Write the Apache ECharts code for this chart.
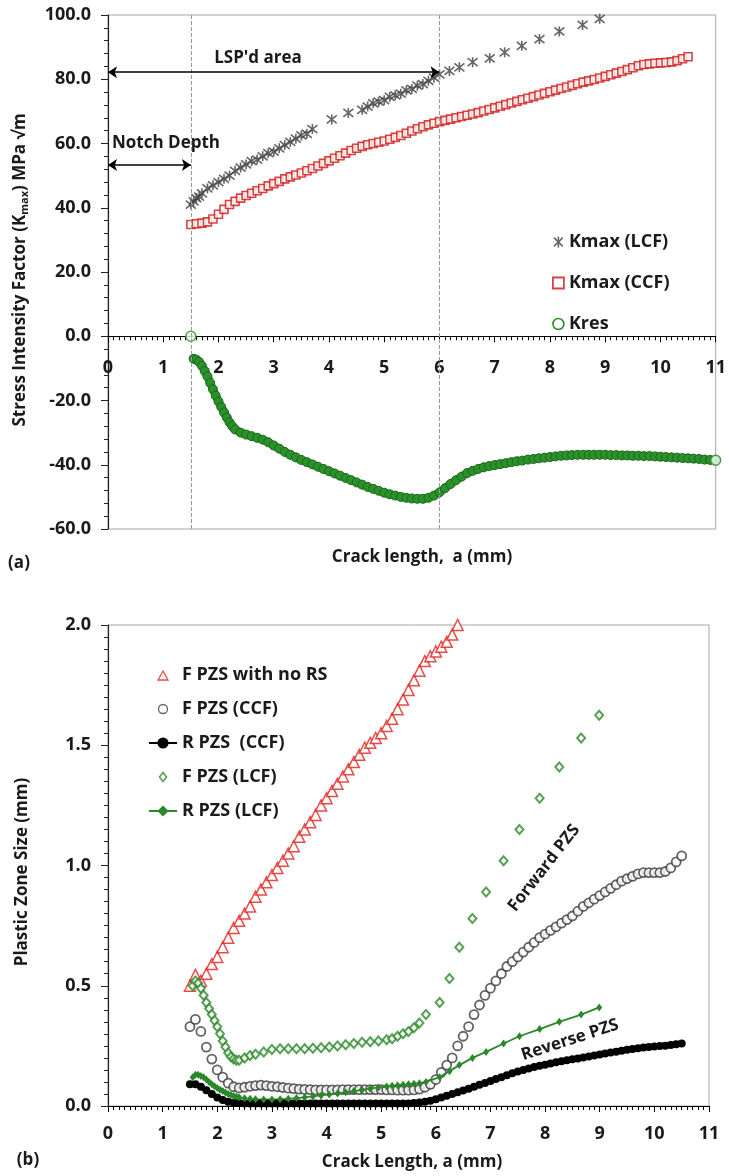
<!DOCTYPE html>
<html>
<head>
<meta charset="utf-8">
<script src="https://cdn.jsdelivr.net/npm/echarts@6/dist/echarts.min.js"></script>
<title>Kmax / Kres and plastic zone size</title>
<style>
  html, body { margin: 0; padding: 0; background: #fff; }
</style>
</head>
<body>
<div id="container" style="width:729px;height:1176px;"></div>
<script>
// ---------- data, chart (a) ----------
// Kmax under LCF (asterisks)
var kLcfX = [1.5,1.55,1.6,1.65,1.7,1.8,1.9,2.0,2.1,2.2,2.3,2.4,2.5,2.6,2.7,2.8,2.9,3.0,3.1,3.2,3.3,3.4,3.5,3.6,3.7,
             4.05,4.35,4.6,4.7,4.8,4.9,5.0,5.1,5.2,5.3,5.4,5.5,5.6,5.7,5.8,5.9,6.0,
             6.18,6.36,6.6,6.91,7.18,7.49,7.81,8.17,8.59,8.9];
var kLcfY = [41,42,43,43.5,44.5,46,47,48,49,50,51.5,52.5,53.5,54.5,55,56,57,57.5,58.5,59.5,60.5,61.5,62.5,63,64.5,
             67.5,69.5,70.5,71.5,72.5,73,73.5,74.5,75,75.5,76.5,77,78,78.5,79.5,80.5,81.5,
             82.6,83.7,85.3,86.5,88.4,90.4,92.5,94.9,96.9,98.8];

// crack lengths of the CCF test (used in both charts)
var ccfX = [1.5,1.6,1.7,1.8,1.9,2.0,2.1,2.2,2.3,2.4,2.5,2.6,2.7,2.8,2.9,3.0,3.1,3.2,3.3,3.4,
            3.5,3.6,3.7,3.8,3.9,4.0,4.1,4.2,4.3,4.4,4.5,4.6,4.7,4.8,4.9,5.0,5.1,5.2,5.3,5.4,
            5.5,5.6,5.7,5.8,5.9,6.0,6.1,6.2,6.3,6.4,6.5,6.6,6.7,6.8,6.9,7.0,7.1,7.2,7.3,7.4,
            7.5,7.6,7.7,7.8,7.9,8.0,8.1,8.2,8.3,8.4,8.5,8.6,8.7,8.8,8.9,9.0,9.1,9.2,9.3,9.4,
            9.5,9.6,9.7,9.8,9.9,10.0,10.1,10.2,10.3,10.4,10.5];
// Kmax under CCF (squares)
var kCcfY = [34.8,35,35.2,35.6,36.5,38,39.5,41,42,43,43.8,44.5,45.3,46,46.8,47.5,48.2,49,49.6,50.2,
             50.8,51.5,52.2,53,53.8,54.6,55.4,56.2,57,57.8,58.5,59.1,59.6,60,60.4,60.8,61.3,61.9,62.5,63.2,
             63.9,64.6,65.2,65.8,66.3,66.8,67.2,67.6,68,68.4,68.8,69.2,69.6,70.1,70.6,71.1,71.6,72.1,72.6,73.1,
             73.6,74.1,74.6,75.1,75.6,76.1,76.6,77.1,77.6,78.1,78.6,79.1,79.5,79.9,80.4,80.9,81.4,81.9,82.4,83,
             83.6,84.2,84.6,84.8,85,85.1,85.2,85.4,85.8,86.4,87];

// residual K (circles)
var kresStart = [1.5, 0];
var kresX = [1.55,1.6,1.65,1.7,1.75,1.8,1.85,1.9,1.95,2.0,2.05,2.1,2.15,2.2,2.25,2.3,
             2.4,2.5,2.6,2.7,2.8,2.9,3.0,3.1,3.2,3.3,3.4,3.5,3.6,3.7,3.8,3.9,4.0,4.1,4.2,4.3,4.4,
             4.5,4.6,4.7,4.8,4.9,5.0,5.1,5.2,5.3,5.4,5.5,5.6,5.7,5.8,5.9,6.0,6.1,6.2,6.3,6.4,
             6.5,6.6,6.7,6.8,6.9,7.0,7.1,7.2,7.3,7.4,7.5,7.6,7.7,7.8,7.9,8.0,8.1,8.2,8.3,8.4,
             8.5,8.6,8.7,8.8,8.9,9.0,9.1,9.2,9.3,9.4,9.5,9.6,9.7,9.8,9.9,10.0,10.1,10.2,10.3,10.4,
             10.5,10.6,10.7,10.8,10.9,11.0];
var kresY = [-7,-7.3,-8,-9.2,-10.8,-12.5,-14.5,-16.5,-18.5,-20.3,-22,-23.7,-25.3,-26.8,-28,-29,
             -30,-30.6,-31.1,-31.6,-32.2,-33,-34,-35,-36,-36.9,-37.7,-38.5,-39.2,-39.9,-40.6,-41.3,-42,-42.7,-43.4,-44.1,-44.8,
             -45.5,-46.2,-46.9,-47.5,-48.1,-48.7,-49.2,-49.6,-50,-50.3,-50.5,-50.6,-50.6,-50.3,-49.6,-48.6,-47.3,-46,-44.8,-43.7,
             -42.6,-41.9,-41.3,-40.8,-40.4,-40.1,-39.8,-39.5,-39.2,-38.9,-38.7,-38.4,-38.2,-38,-37.8,-37.6,-37.4,-37.2,-37.1,-37,
             -36.9,-36.9,-36.9,-36.9,-36.9,-36.9,-37,-37,-37.1,-37.1,-37.2,-37.2,-37.3,-37.3,-37.4,-37.5,-37.6,-37.7,-37.8,-37.9,
             -38,-38.1,-38.2,-38.4,-38.5,-38.6];

// annotation positions (crack length, mm) and arrow heights (MPa vm)
var notchDepth = 1.5, lspEnd = 6;
var lspArrowY = 82.2, notchArrowY = 53.3;

// ---------- data, chart (b) ----------
var noRsX = [1.5,1.6,1.7,1.8,1.9,2.0,2.1,2.2,2.3,2.4,2.5,2.6,2.7,2.8,2.9,3.0,3.1,3.2,3.3,3.4,
             3.5,3.6,3.7,3.8,3.9,4.0,4.1,4.2,4.3,4.4,4.5,4.6,4.7,4.8,4.9,5.0,5.1,5.2,5.3,5.4,
             5.5,5.6,5.7,5.8,5.9,6.0,6.1,6.2,6.3,6.4];
var noRsY = [0.5,0.545,0.52,0.55,0.59,0.62,0.66,0.70,0.74,0.77,0.80,0.83,0.87,0.90,0.93,0.96,0.99,1.02,1.05,1.08,
             1.12,1.15,1.18,1.21,1.25,1.28,1.31,1.34,1.37,1.40,1.43,1.46,1.49,1.51,1.53,1.55,1.58,1.61,1.65,1.69,
             1.73,1.77,1.81,1.85,1.87,1.89,1.91,1.93,1.96,2.0];

var fCcfY = [0.33,0.36,0.31,0.245,0.195,0.15,0.12,0.095,0.08,0.075,0.078,0.082,0.085,0.087,0.085,0.082,0.08,0.077,0.074,0.072,
             0.07,0.069,0.068,0.067,0.067,0.067,0.067,0.067,0.068,0.068,0.068,0.068,0.068,0.068,0.068,0.068,0.067,0.067,0.066,0.066,
             0.066,0.067,0.07,0.078,0.09,0.11,0.14,0.17,0.2,0.25,0.29,0.33,0.38,0.42,0.46,0.49,0.52,0.55,0.58,0.6,
             0.62,0.64,0.66,0.68,0.70,0.715,0.73,0.745,0.76,0.775,0.79,0.81,0.83,0.845,0.86,0.875,0.89,0.905,0.92,0.935,
             0.945,0.955,0.965,0.97,0.97,0.97,0.97,0.975,0.99,1.015,1.04];
var rCcfY = [0.09,0.09,0.08,0.065,0.05,0.035,0.025,0.018,0.014,0.012,0.01,0.01,0.01,0.01,0.01,0.01,0.01,0.01,0.01,0.01,
             0.01,0.01,0.01,0.01,0.01,0.01,0.01,0.01,0.01,0.01,0.01,0.01,0.01,0.01,0.01,0.01,0.01,0.01,0.01,0.01,
             0.01,0.012,0.015,0.018,0.022,0.028,0.035,0.043,0.05,0.057,0.064,0.072,0.08,0.088,0.096,0.104,0.112,0.12,0.128,0.136,
             0.143,0.15,0.156,0.162,0.167,0.172,0.177,0.182,0.186,0.19,0.194,0.198,0.202,0.206,0.21,0.214,0.218,0.222,0.226,0.23,
             0.234,0.237,0.24,0.243,0.245,0.247,0.249,0.251,0.254,0.257,0.26];

var lcfX = [1.55,1.6,1.65,1.7,1.75,1.8,1.85,1.9,1.95,2.0,2.05,2.1,2.15,2.2,2.25,2.3,2.35,2.4,
            2.5,2.6,2.7,2.85,3.0,3.15,3.3,3.45,3.6,3.75,3.9,4.05,4.2,4.35,4.5,4.65,4.8,4.95,5.1,
            5.2,5.3,5.4,5.5,5.6,5.7,5.82,6.07,6.25,6.43,6.67,6.92,7.24,7.53,7.9,8.26,8.66,8.99];
var fLcfY = [0.5,0.52,0.51,0.49,0.46,0.43,0.405,0.38,0.355,0.33,0.3,0.27,0.245,0.22,0.205,0.195,0.19,0.19,
             0.2,0.21,0.215,0.225,0.235,0.238,0.238,0.238,0.238,0.24,0.242,0.245,0.25,0.255,0.26,0.265,0.267,0.27,0.275,
             0.28,0.29,0.3,0.31,0.325,0.345,0.38,0.43,0.53,0.66,0.78,0.89,1.02,1.15,1.28,1.41,1.53,1.625];
var rLcfY = [0.12,0.13,0.13,0.125,0.12,0.11,0.1,0.09,0.082,0.075,0.068,0.062,0.056,0.05,0.046,0.042,0.039,0.036,
             0.032,0.03,0.028,0.027,0.027,0.028,0.03,0.033,0.036,0.04,0.044,0.048,0.052,0.057,0.062,0.067,0.072,0.077,0.081,
             0.084,0.086,0.088,0.09,0.092,0.095,0.1,0.12,0.145,0.17,0.2,0.225,0.26,0.29,0.32,0.35,0.38,0.41];

// ---------- helpers ----------
function zip(xs, ys) {
    var out = [];
    for (var i = 0; i < xs.length; i++) out.push([xs[i], ys[i]]);
    return out;
}

var FONT = '"Open Sans", "Liberation Sans", sans-serif';
var RED = '#e0201c', DRED = '#cf1414', GREEN = '#2a882a', GREY = '#3c3c3c', DARK = '#404040';
var asterisk = 'path://M1,1L9,9M9,1L1,9M5,0L5,10';
// small legend icons inside a 28x14 box (the leading moves only pad the box)
var iconTri = 'path://M0,0M28,14M9,12L14,3L19,12Z';
var iconCircle = 'path://M0,0M28,14M9.5,7A4.5,4.5,0,1,1,18.5,7A4.5,4.5,0,1,1,9.5,7Z';
var iconDiamond = 'path://M0,0M28,14M14,2.5L17.5,7L14,11.5L10.5,7Z';

// chart (a) y range; its crack-length axis sits on K = 0
var yMinA = -60, yMaxA = 100, gridHA = 514;
var zeroOffsetA = -gridHA * (0 - yMinA) / (yMaxA - yMinA);

function xAxisCfg(grid, offset, margin) {
    return {
        type: 'value', gridIndex: grid, min: 0, max: 11, interval: 1,
        position: 'bottom', offset: offset,
        axisLine: { onZero: false, lineStyle: { color: '#000', width: 1.2 } },
        axisTick: { length: 6, lineStyle: { color: '#000' } },
        minorTick: { show: true, splitNumber: 10, length: 4, lineStyle: { color: '#000' } },
        axisLabel: { margin: margin, color: '#1a1a1a', fontSize: 18, fontWeight: 'bold', fontFamily: FONT },
        splitLine: { show: false }
    };
}

function yAxisCfg(grid, min, max, step, minor) {
    return {
        type: 'value', gridIndex: grid, min: min, max: max, interval: step,
        axisLine: { show: true, onZero: false, lineStyle: { color: '#222', width: 1.2 } },
        axisTick: { show: true, length: 7, lineStyle: { color: '#222' } },
        minorTick: { show: true, splitNumber: minor, length: 4, lineStyle: { color: '#222' } },
        axisLabel: {
            margin: 17, color: '#1a1a1a', fontSize: 18, fontWeight: 'bold', fontFamily: FONT,
            formatter: function (v) { return v.toFixed(1); }
        },
        splitLine: { show: false }
    };
}

function txt(x, y, s, size, rot) {
    return {
        type: 'text', x: x, y: y, rotation: rot || 0, silent: true,
        style: {
            text: s, fill: '#1a1a1a', fontSize: size || 17, fontWeight: 'bold', fontFamily: FONT,
            textAlign: 'center', textVerticalAlign: 'middle'
        }
    };
}

var myChart = echarts.init(document.getElementById('container'), null, { renderer: 'canvas' });

var option = {
    animation: false,
    backgroundColor: '#fff',
    grid: [
        { left: 108, top: 15, width: 609, height: gridHA, show: true, borderColor: '#a6a6a6', borderWidth: 1 },
        { left: 108, top: 625, width: 601, height: 481, show: true, borderColor: '#a6a6a6', borderWidth: 1 }
    ],
    xAxis: [xAxisCfg(0, zeroOffsetA, 23), xAxisCfg(1, 0, 19)],
    yAxis: [yAxisCfg(0, yMinA, yMaxA, 20, 5), yAxisCfg(1, 0, 2, 0.5, 10)],
    legend: [
        {
            orient: 'vertical', left: 547, top: 228, itemWidth: 11, itemHeight: 11, itemGap: 23,
            textStyle: { fontSize: 18, fontWeight: 'bold', fontFamily: FONT, color: '#1a1a1a' },
            data: [
                { name: 'Kmax (LCF)', itemStyle: { color: DARK, borderColor: DARK, borderWidth: 1.5 } },
                { name: 'Kmax (CCF)', icon: 'rect', itemStyle: { color: '#fff', borderColor: DRED, borderWidth: 1.8 } },
                { name: 'Kres', icon: 'circle', itemStyle: { color: '#fff', borderColor: GREEN, borderWidth: 1.5 } }
            ]
        },
        {
            orient: 'vertical', left: 143, top: 661, itemWidth: 28, itemHeight: 14, itemGap: 16,
            textStyle: { fontSize: 18, fontWeight: 'bold', fontFamily: FONT, color: '#1a1a1a' },
            data: [
                { name: 'F PZS with no RS', icon: iconTri, itemStyle: { color: '#fff', borderColor: RED, borderWidth: 1.3 } },
                { name: 'F PZS (CCF)', icon: iconCircle, itemStyle: { color: '#fff', borderColor: GREY, borderWidth: 1.3 } },
                { name: 'R PZS  (CCF)' },
                { name: 'F PZS (LCF)', icon: iconDiamond, itemStyle: { color: '#fff', borderColor: GREEN, borderWidth: 1.6 } },
                { name: 'R PZS (LCF)' }
            ]
        }
    ],
    graphic: [
        {
            type: 'text', x: 20, y: 270, rotation: Math.PI / 2, silent: true,
            style: {
                text: '{n|Stress Intensity Factor (K}{s|max}{n|) MPa √m}',
                textAlign: 'center', textVerticalAlign: 'middle', fill: '#1a1a1a',
                rich: {
                    n: { fontSize: 17, fontWeight: 'bold', fontFamily: FONT, fill: '#1a1a1a', lineHeight: 22 },
                    s: { fontSize: 11, fontWeight: 'bold', fontFamily: FONT, fill: '#1a1a1a', lineHeight: 22, padding: [9, 0, 0, 0] }
                }
            }
        },
        txt(422, 557, 'Crack length,  a (mm)'),
        txt(19, 563, '(a)'),
        txt(258, 58, "LSP'd area"),
        {
            type: 'text', x: 112, y: 143, silent: true,
            style: { text: 'Notch Depth', fill: '#1a1a1a', fontSize: 17, fontWeight: 'bold', fontFamily: FONT, textAlign: 'left', textVerticalAlign: 'middle' }
        },
        txt(22, 872, 'Plastic Zone Size (mm)', 17, Math.PI / 2),
        txt(412, 1162, 'Crack Length, a (mm)'),
        txt(28, 1160, '(b)'),
        txt(544, 868, 'Forward PZS', 17, 52 * Math.PI / 180),
        txt(570, 1040, 'Reverse PZS', 17, 18 * Math.PI / 180)
    ],
    series: [
        // ---- chart (a) ----
        {
            name: 'Kres', type: 'line', xAxisIndex: 0, yAxisIndex: 0,
            data: zip(kresX, kresY),
            showAllSymbol: true, symbol: 'circle', symbolSize: 9,
            lineStyle: { color: GREEN, width: 8, cap: 'round' },
            itemStyle: { color: '#2b922b', borderColor: '#1b691b', borderWidth: 1 },
            markLine: {
                silent: true, symbol: 'none', label: { show: false },
                lineStyle: { color: '#9a9a9a', type: 'dashed', width: 1 },
                data: [{ xAxis: notchDepth }, { xAxis: lspEnd }]
            },
            z: 3
        },
        {
            name: 'Kres', type: 'scatter', xAxisIndex: 0, yAxisIndex: 0,
            data: [kresStart, [kresX[kresX.length - 1], kresY[kresY.length - 1]]],
            symbol: 'circle', symbolSize: 10,
            itemStyle: { color: '#fff', borderColor: GREEN, borderWidth: 1.5 },
            z: 4
        },
        {
            name: 'Kmax (CCF)', type: 'scatter', xAxisIndex: 0, yAxisIndex: 0,
            data: zip(ccfX, kCcfY),
            symbol: 'rect', symbolSize: 8,
            itemStyle: { color: '#fff', borderColor: DRED, borderWidth: 1.6 },
            markLine: {
                silent: true, symbol: ['arrow', 'arrow'], symbolSize: 9, label: { show: false },
                lineStyle: { color: '#000', type: 'solid', width: 1.5 },
                data: [
                    [{ coord: [0, lspArrowY] }, { coord: [lspEnd, lspArrowY] }],
                    [{ coord: [0, notchArrowY] }, { coord: [notchDepth, notchArrowY] }]
                ]
            }
        },
        {
            name: 'Kmax (LCF)', type: 'scatter', xAxisIndex: 0, yAxisIndex: 0,
            data: zip(kLcfX, kLcfY),
            symbol: asterisk, symbolSize: 10,
            itemStyle: { color: DARK, borderColor: DARK, borderWidth: 1.6 }
        },
        // ---- chart (b) ----
        {
            name: 'R PZS  (CCF)', type: 'line', xAxisIndex: 1, yAxisIndex: 1,
            data: zip(ccfX, rCcfY),
            showAllSymbol: true, symbol: 'circle', symbolSize: 8,
            lineStyle: { color: '#000', width: 1.5 },
            itemStyle: { color: '#000' }
        },
        {
            name: 'F PZS (CCF)', type: 'scatter', xAxisIndex: 1, yAxisIndex: 1,
            data: zip(ccfX, fCcfY),
            symbol: 'circle', symbolSize: 9,
            itemStyle: { color: '#fff', borderColor: GREY, borderWidth: 1.8 }
        },
        {
            name: 'F PZS with no RS', type: 'scatter', xAxisIndex: 1, yAxisIndex: 1,
            data: zip(noRsX, noRsY),
            symbol: 'triangle', symbolSize: 11,
            itemStyle: { color: '#fff', borderColor: RED, borderWidth: 1.5 }
        },
        {
            name: 'F PZS (LCF)', type: 'scatter', xAxisIndex: 1, yAxisIndex: 1,
            data: zip(lcfX, fLcfY),
            symbol: 'diamond', symbolSize: [8, 9],
            itemStyle: { color: '#fff', borderColor: GREEN, borderWidth: 2 }
        },
        {
            name: 'R PZS (LCF)', type: 'line', xAxisIndex: 1, yAxisIndex: 1,
            data: zip(lcfX, rLcfY),
            showAllSymbol: true, symbol: 'diamond', symbolSize: [6, 8],
            lineStyle: { color: GREEN, width: 1.8 },
            itemStyle: { color: GREEN }
        }
    ]
};

myChart.setOption(option);
</script>
</body>
</html>
